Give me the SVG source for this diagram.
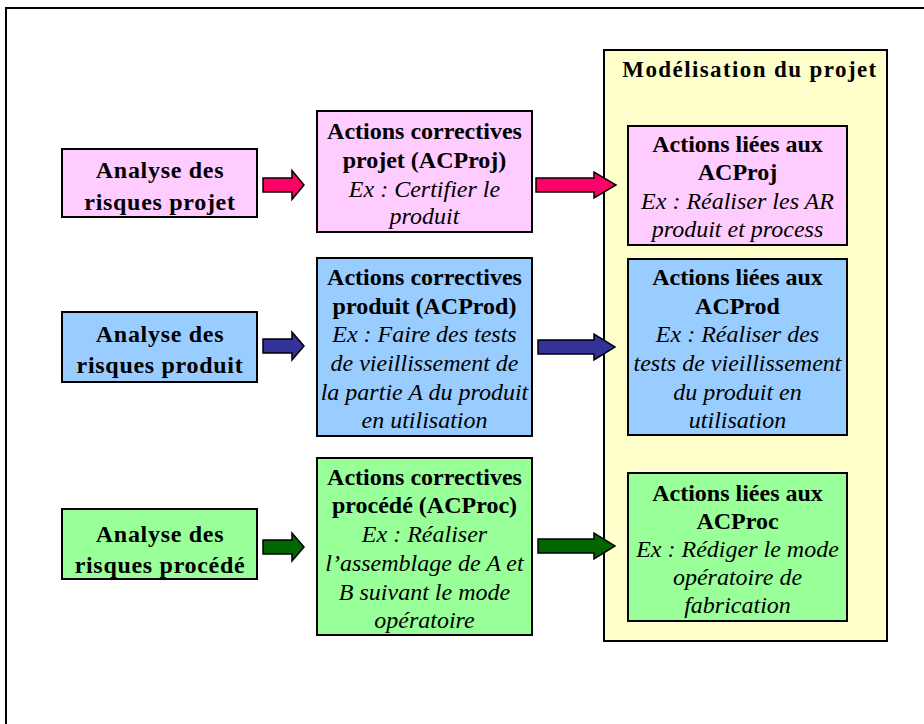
<svg xmlns="http://www.w3.org/2000/svg" width="924" height="724" viewBox="0 0 924 724">
<style>
.box{stroke:#000;stroke-width:2}
.pink{fill:#FFCCFF}
.blue{fill:#99CCFF}
.green{fill:#99FF99}
.yellow{fill:#FFFFCC}
text{font-family:'Liberation Serif',serif;font-size:24px;text-anchor:middle;fill:#000}
.b{font-weight:bold}
.big{font-weight:bold;font-size:24px;letter-spacing:0.7px}
.i{font-style:italic}
.title{font-weight:bold;font-size:23px;letter-spacing:1.4px}
.arr{stroke:#000;stroke-width:1.5;stroke-linejoin:miter}
</style>
<rect x="0" y="0" width="924" height="724" fill="#fff"/>
<path d="M6,724 V8 H924" fill="none" stroke="#000" stroke-width="2"/>

<g id="modelisation">
<rect class="box yellow" x="604" y="50" width="283" height="591"/>
<text class="title" x="750" y="77">Modélisation du projet</text>
</g>

<g id="analyse-projet">
<rect class="box pink" x="62" y="149" width="195" height="68"/>
<text class="big" x="160" y="178">Analyse des</text>
<text class="big" x="160" y="210">risques projet</text>
</g>
<g id="ac-projet">
<rect class="box pink" x="317" y="111" width="215" height="121"/>
<text class="b" x="424.5" y="139">Actions correctives</text>
<text class="b" x="424.5" y="168">projet (ACProj)</text>
<text class="i" x="424.5" y="196.5">Ex : Certifier le</text>
<text class="i" x="424.5" y="224">produit</text>
</g>
<g id="actions-acproj">
<rect class="box pink" x="628" y="126" width="219" height="119"/>
<text class="b" x="737.5" y="152">Actions liées aux</text>
<text class="b" x="737.5" y="180">ACProj</text>
<text class="i" x="737.5" y="209">Ex : Réaliser les AR</text>
<text class="i" x="737.5" y="237">produit et process</text>
</g>

<g id="analyse-produit">
<rect class="box blue" x="62" y="312" width="195" height="70"/>
<text class="big" x="160" y="342">Analyse des</text>
<text class="big" x="160" y="373">risques produit</text>
</g>
<g id="ac-produit">
<rect class="box blue" x="317" y="258" width="215" height="178"/>
<text class="b" x="424.5" y="285">Actions correctives</text>
<text class="b" x="424.5" y="314">produit (ACProd)</text>
<text class="i" x="424.5" y="342">Ex : Faire des tests</text>
<text class="i" x="424.5" y="371">de vieillissement de</text>
<text class="i" x="424.5" y="400">la partie A du produit</text>
<text class="i" x="424.5" y="428">en utilisation</text>
</g>
<g id="actions-acprod">
<rect class="box blue" x="628" y="259" width="219" height="176"/>
<text class="b" x="737.5" y="285">Actions liées aux</text>
<text class="b" x="737.5" y="314">ACProd</text>
<text class="i" x="737.5" y="342">Ex : Réaliser des</text>
<text class="i" x="737.5" y="371">tests de vieillissement</text>
<text class="i" x="737.5" y="400">du produit en</text>
<text class="i" x="737.5" y="428">utilisation</text>
</g>

<g id="analyse-procede">
<rect class="box green" x="62" y="509" width="195" height="70"/>
<text class="big" x="160" y="542">Analyse des</text>
<text class="big" x="160" y="573">risques procédé</text>
</g>
<g id="ac-procede">
<rect class="box green" x="317" y="458" width="215" height="177"/>
<text class="b" x="424.5" y="485">Actions correctives</text>
<text class="b" x="424.5" y="513">procédé (ACProc)</text>
<text class="i" x="424.5" y="542">Ex : Réaliser</text>
<text class="i" x="424.5" y="571">l’assemblage de A et</text>
<text class="i" x="424.5" y="600">B suivant le mode</text>
<text class="i" x="424.5" y="628">opératoire</text>
</g>
<g id="actions-acproc">
<rect class="box green" x="628" y="473" width="219" height="148"/>
<text class="b" x="737.5" y="501">Actions liées aux</text>
<text class="b" x="737.5" y="529">ACProc</text>
<text class="i" x="737.5" y="557">Ex : Rédiger le mode</text>
<text class="i" x="737.5" y="585">opératoire de</text>
<text class="i" x="737.5" y="613">fabrication</text>
</g>

<g id="connectors">
<polygon class="arr" fill="#FF0066" points="263,178 292,178 292,170.5 304,185 292,199.5 292,192 263,192"/>
<polygon class="arr" fill="#FF0066" points="536,178 594,178 594,172 616,185 594,198 594,192 536,192"/>
<polygon class="arr" fill="#333399" points="263,339 292,339 292,332 304,346 292,360 292,353 263,353"/>
<polygon class="arr" fill="#333399" points="538,340 594,340 594,334 615,347 594,360 594,354 538,354"/>
<polygon class="arr" fill="#006600" points="263,540 292,540 292,533 304,547 292,561 292,554 263,554"/>
<polygon class="arr" fill="#006600" points="538,539 594,539 594,533 615,546 594,559 594,553 538,553"/>
</g>
</svg>
